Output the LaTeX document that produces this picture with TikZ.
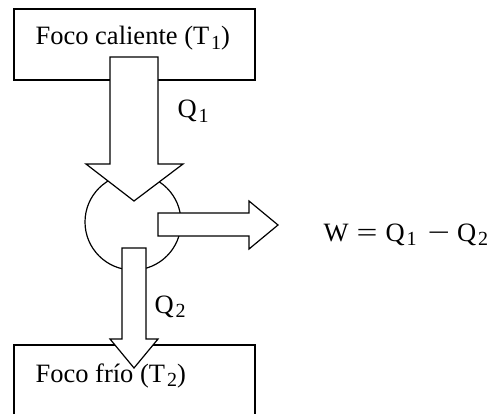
\documentclass[tikz,border=0pt]{standalone}
\usepackage{fontspec}
\usepackage{graphicx}
\setmainfont{Liberation Serif}
\newcommand{\sbs}[1]{\kern2pt\raisebox{-4.5pt}{\fontsize{20}{20}\selectfont #1}}
\begin{document}
\begin{tikzpicture}[x=1pt,y=-1pt,line width=1.2pt,
  outl/.style={draw=black,fill=white,line join=miter},
  lbl/.style={inner sep=0pt,anchor=base west,font=\fontsize{26.5}{27}\selectfont}]
\useasboundingbox (0,0) rectangle (494,414);
% boxes
\draw (14,9) rectangle (255,80);
\draw (14,414) -- (14,345) -- (255,345) -- (255,414);
% circle (engine)
\node[draw,circle,minimum size=96pt,inner sep=0pt,line width=1.2pt] (eng) at (133,222) {};
% top arrow
\draw[outl] (110,57) -- (158,57) -- (158,164) -- (183,164) -- (134,201) -- (86,164) -- (110,164) -- cycle;
% right arrow
\draw[outl] (158,213) -- (249,213) -- (249,201) -- (278,225) -- (249,249) -- (249,236) -- (158,236) -- cycle;
% bottom arrow
\draw[outl] (122,248) -- (146,248) -- (146,339) -- (158,339) -- (134,368) -- (110,339) -- (122,339) -- cycle;
% texts
\node[lbl] (hot) at (35,45) {Foco caliente (T\sbs{1})};
\node[lbl] (q1) at (177,118) {Q\sbs{1}};
\node[lbl] (q2) at (154,313) {Q\sbs{2}};
\node[lbl] (cold) at (35,382) {Foco frío (T\sbs{2})};
\node[lbl] (w) at (323,241) {W\hspace{8pt}\scalebox{1.4}[1]{=}\hspace{8pt}Q\sbs{1}\hspace{11pt}\scalebox{1.5}[1]{−}\hspace{7pt}Q\sbs{2}};
\end{tikzpicture}
\end{document}
